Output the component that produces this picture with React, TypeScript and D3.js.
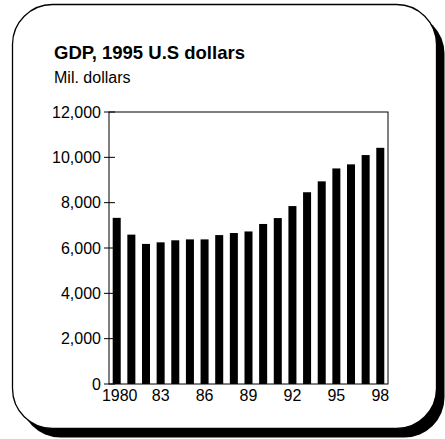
import React from "react";
import * as d3 from "d3";

const years: number[] = [1980,1981,1982,1983,1984,1985,1986,1987,1988,1989,1990,1991,1992,1993,1994,1995,1996,1997,1998];
const gdp: number[] = [7330,6590,6180,6250,6340,6380,6380,6570,6660,6730,7060,7320,7850,8460,8940,9510,9690,10100,10420];
const yTicks: number[] = [0,2000,4000,6000,8000,10000,12000];
const xLabelYears: number[] = [1980,1983,1986,1989,1992,1995,1998];
const xLabelText: string[] = ["1980","83","86","89","92","95","98"];
const title = "GDP, 1995 U.S dollars";
const subtitle = "Mil. dollars";

export default function App() {
  const W = 445, H = 439;
  const left = 109, right = 388, top = 112, bottom = 384;
  const x = d3.scaleBand<number>().domain(years).range([left, right]).paddingInner(0.453).paddingOuter(0.253);
  const y = d3.scaleLinear().domain([0, 12000]).range([bottom, top]);
  const fmt = d3.format(",");
  const font = "'Liberation Sans', Arial, Helvetica, sans-serif";
  const cardX = 12.5, cardY = 4.5, cardW = 424, cardH = 424, r = 40;
  return (
    <svg width={W} height={H} style={{ position: "absolute", left: 0, top: 0, display: "block" }} fontFamily={font}>
      <rect x={0} y={0} width={W} height={H} fill="#fff" />
      <rect x={cardX + 8} y={cardY + 9} width={cardW} height={cardH} rx={r} ry={r} fill="#000" />
      <rect x={cardX} y={cardY} width={cardW} height={cardH} rx={r} ry={r} fill="#fff" stroke="#000" strokeWidth={1.3} />
      <text x={54} y={59} fontSize={18.5} fontWeight="bold" fill="#000">{title}</text>
      <text x={54} y={83} fontSize={16} fill="#000">{subtitle}</text>
      {gdp.map((v, i) => (
        <rect key={years[i]} x={x(years[i])} y={y(v)} width={x.bandwidth()} height={y(0) - y(v)} fill="#000" />
      ))}
      <rect x={left} y={top} width={right - left} height={bottom - top} fill="none" stroke="#000" strokeWidth={1} />
      {yTicks.map((t) => (
        <g key={t}>
          <line x1={left - 5} x2={left + 6} y1={y(t)} y2={y(t)} stroke="#000" strokeWidth={1} />
          <text x={left - 8} y={y(t)} dy="0.35em" textAnchor="end" fontSize={16} fill="#000">{fmt(t)}</text>
        </g>
      ))}
      {xLabelYears.map((yr, i) => (
        <text key={yr} x={(x(yr) as number) + x.bandwidth() / 2 + (i === 0 ? 3 : 0)} y={401} textAnchor="middle" fontSize={16} fill="#000">{xLabelText[i]}</text>
      ))}
    </svg>
  );
}
